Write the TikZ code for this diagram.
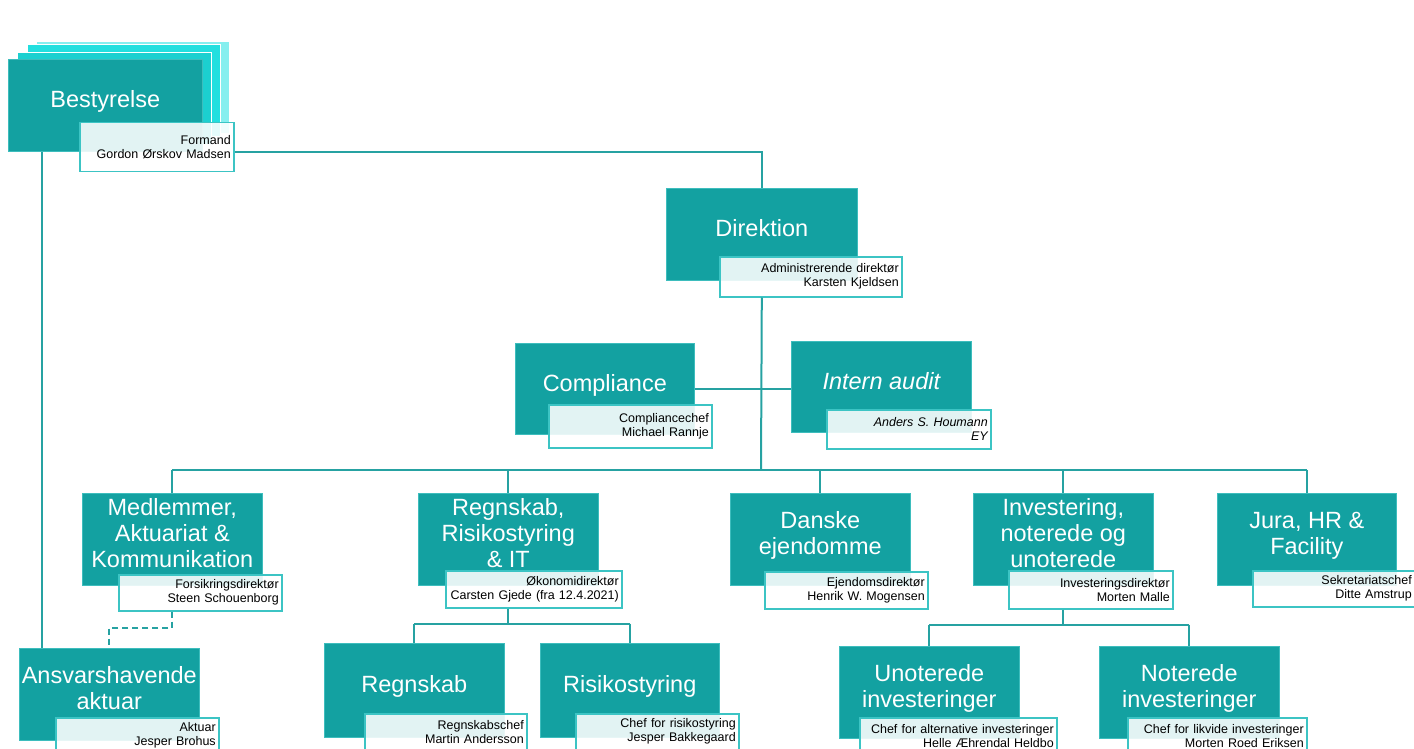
\documentclass[tikz,border=0pt]{standalone}
\usepackage{fontspec}
\setmainfont{Liberation Sans}
\definecolor{orgteal}{HTML}{13A1A1}
\definecolor{orgedge}{HTML}{3DBDBD}
\definecolor{orgline}{HTML}{26A2A2}
\definecolor{orgsub}{HTML}{3CC4C4}
\definecolor{orgcyan}{HTML}{1CD0D0}
\definecolor{orgcyanb}{HTML}{22DFDF}
\definecolor{orgpale}{HTML}{86EFEF}
\begin{document}
\begin{tikzpicture}[x=1pt,y=-1pt,
    unit/.style={fill=orgteal, draw=orgedge, line width=.6pt, anchor=north west,
      inner sep=0pt, align=center, text=white, text depth=12pt,
      font=\fontsize{23.5}{26}\selectfont, minimum width=180pt, minimum height=92pt},
    role/.style={fill=white, fill opacity=.88, text opacity=1, draw=orgsub,
      line width=1.5pt, anchor=north west, inner xsep=3pt, inner ysep=0pt,
      align=right, text=black, font=\fontsize{12.5}{14}\selectfont,
      text width=157pt, minimum height=37pt},
    link/.style={draw=orgline, line width=2pt}]
  \useasboundingbox (0,0) rectangle (1414,749);

  % bestyrelse med bagvedliggende lag
  \filldraw[fill=orgpale, draw=white] (36,41) rectangle (229,133);
  \filldraw[fill=orgcyanb, draw=white] (27,44) rectangle (220,136);
  \filldraw[fill=orgcyan, draw=white] (17,52) rectangle (211,144);
  \node[unit, minimum width=194pt] (best) at (8,59) {Bestyrelse};
  \node[role, text width=148pt, minimum height=49pt] (bestsub) at (79,122) {Formand\\Gordon Ørskov Madsen};

  \node[unit, minimum width=191pt] (dir) at (666,188) {Direktion};
  \node[role, text width=176pt, minimum height=40pt] (dirsub) at (719,256) {Administrerende direktør\\Karsten Kjeldsen};

  \node[unit, minimum width=179pt, minimum height=91pt] (comp) at (515,343) {Compliance};
  \node[role, minimum height=43pt] (compsub) at (548,404) {Compliancechef\\Michael Rannje};
  \node[unit, minimum height=91pt] (audit) at (791,341) {\itshape Intern audit};
  \node[role, text width=158pt, minimum height=39pt] (auditsub) at (826,409) {\itshape Anders S. Houmann\\\itshape EY};

  % afdelinger
  \node[unit] (medl) at (82,493) {Medlemmer,\\Aktuariat \&\\Kommunikation};
  \node[role, minimum height=36pt] (medlsub) at (118,574) {Forsikringsdirektør\\Steen Schouenborg};
  \node[unit] (regn) at (418,493) {Regnskab,\\Risikostyring\\\& IT};
  \node[role, text width=170pt] (regnsub) at (445,570) {Økonomidirektør\\Carsten Gjede (fra 12.4.2021)};
  \node[unit] (dansk) at (730,493) {Danske\\ejendomme};
  \node[role] (dansksub) at (764,571) {Ejendomsdirektør\\Henrik W. Mogensen};
  \node[unit] (inv) at (973,493) {Investering,\\noterede og\\unoterede};
  \node[role, text width=158pt, minimum height=38pt] (invsub) at (1008,570) {Investeringsdirektør\\Morten Malle};
  \node[unit, minimum width=179pt] (jura) at (1217,493) {Jura, HR \&\\Facility};
  \node[role, text width=156pt, minimum height=36pt] (jurasub) at (1252,570) {Sekretariatschef\\Ditte Amstrup};

  % underafdelinger
  \node[unit, minimum height=94pt] (regnsk) at (324,643) {Regnskab};
  \node[role, text width=156pt, minimum height=36pt] (regnsksub) at (364,713) {Regnskabschef\\Martin Andersson};
  \node[unit, minimum width=179pt, minimum height=94pt] (risk) at (540,643) {Risikostyring};
  \node[role, minimum height=36pt] (risksub) at (575,713) {Chef for risikostyring\\Jesper Bakkegaard};
  \node[unit] (unot) at (839,646) {Unoterede\\investeringer};
  \node[role, text width=191pt, minimum height=36pt] (unotsub) at (859,717) {Chef for alternative investeringer\\Helle Æhrendal Heldbo};
  \node[unit] (note) at (1099,646) {Noterede\\investeringer};
  \node[role, text width=173pt, minimum height=36pt] (notesub) at (1127,717) {Chef for likvide investeringer\\Morten Roed Eriksen};
  \node[unit] (ans) at (19,648) {Ansvarshavende\\aktuar};
  \node[role, minimum height=36pt] (anssub) at (55,717) {Aktuar\\Jesper Brohus};

  % forbindelser
  \coordinate (bus) at (761,470);
  \draw[link] ([yshift=-5pt]bestsub.east) -| (dir.north);
  \draw[link] ([xshift=34pt]best.south west) -- ([xshift=34pt]best.south west |- ans.north);
  \draw[link] (dir.south |- dirsub.south) -- (bus);
  \draw[link] (comp.east) -- (comp.east -| audit.west);
  \draw[link] (bus -| medl.north) -- (bus -| jura.north);
  \foreach \n in {medl,regn,dansk,inv,jura}
    \draw[link] (bus -| \n.north) -- (\n.north);
  \draw[link] (regn.south |- regnsub.south) -- ++(0,15) coordinate (regnbus);
  \draw[link] (regnbus -| regnsk.north) -- (regnbus -| risk.north);
  \draw[link] (regnbus -| regnsk.north) -- (regnsk.north);
  \draw[link] (regnbus -| risk.north) -- (risk.north);
  \draw[link] (inv.south |- invsub.south) -- ++(0,15) coordinate (invbus);
  \draw[link] (invbus -| unot.north) -- (invbus -| note.north);
  \draw[link] (invbus -| unot.north) -- (unot.north);
  \draw[link] (invbus -| note.north) -- (note.north);
  \draw[link, dash pattern=on 6pt off 4pt] (medl.south |- medlsub.south) -- ++(0,16) -| (ans.north);
\end{tikzpicture}
\end{document}
